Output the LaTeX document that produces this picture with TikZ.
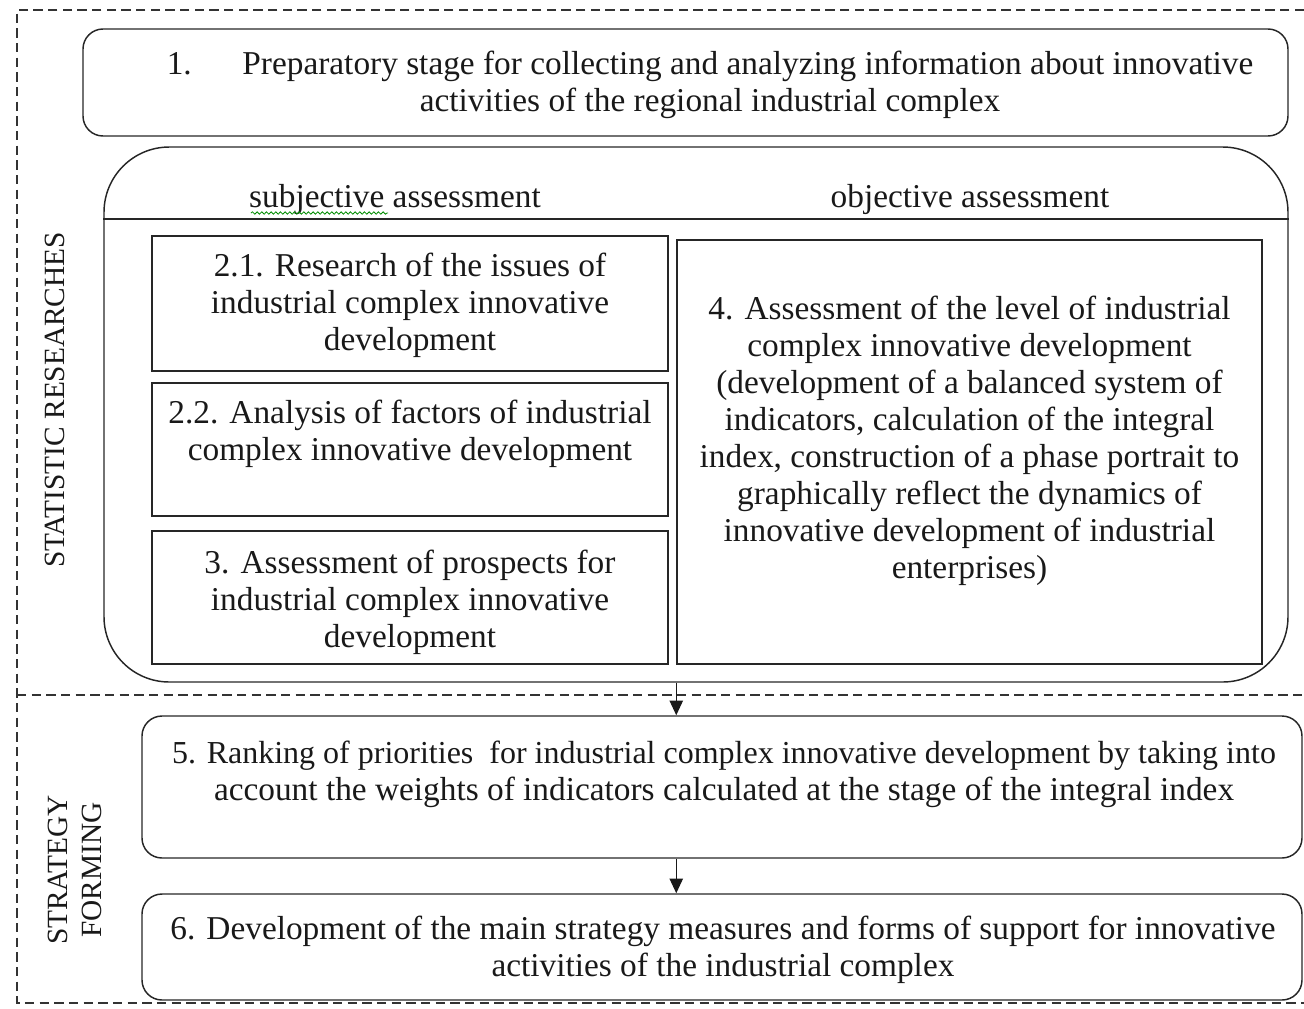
\documentclass[tikz,border=0pt]{standalone}
\usepackage{fontspec}
\setmainfont{Liberation Serif}
\usetikzlibrary{arrows.meta,decorations.pathmorphing}
\newdimen\u
\u=0.75pt
\tikzset{
  bx/.style={draw=black!85, line width=1.1pt, inner sep=0pt, rectangle},
  rbx/.style={bx, rounded corners=15pt},
  txt/.style={align=center, inner sep=0pt, font=\fontsize{25}{27.75}\selectfont, text=black!90},
  side/.style={align=center, inner sep=0pt, rotate=90, font=\fontsize{22}{26}\selectfont, text=black!90},
  dsh/.style={draw=black!80, line width=1.1pt, dash pattern=on 7pt off 4pt},
  arr/.style={draw=black!90, line width=1pt, -{Triangle[width=10pt,length=11pt]}}
}
\begin{document}
\begin{tikzpicture}[x=0.75pt,y=-0.75pt]
\useasboundingbox (0,0) rectangle (1304,1008);
% outer dashed frame
\draw[dsh] (1304,10) -- (17,10) -- (17,1003) -- (1304,1003);
\draw[dsh] (17,695) -- (1304,695);
% boxes
\node[rbx, minimum width=1205\u, minimum height=107\u] (b1) at (685.5,82.5) {};
\node[bx, rounded corners=49pt, minimum width=1184\u, minimum height=535\u] (cont) at (696,414.5) {};
\coordinate (hl) at (0,219);
\draw[draw=black!85, line width=1.1pt] (cont.west |- hl) -- (cont.east |- hl);
\node[bx, minimum width=516\u, minimum height=135\u] (b21) at (410,303.5) {};
\node[bx, minimum width=516\u, minimum height=133\u] (b22) at (410,449.5) {};
\node[bx, minimum width=516\u, minimum height=133\u] (b3) at (410,597.5) {};
\node[bx, minimum width=585\u, minimum height=424\u] (b4) at (969.5,452) {};
\node[rbx, minimum width=1160\u, minimum height=142\u] (b5) at (722,787) {};
\node[rbx, minimum width=1160\u, minimum height=106\u] (b6) at (722,947) {};
% texts
\node[txt] (t1) at (710,85) {1.\hspace{38pt}Preparatory stage for collecting and analyzing information about innovative\\activities of the regional industrial complex};
\node[txt] (hs) at (395,199) {subjective assessment};
\node[txt] (ho) at (970,199) {objective assessment};
\draw[green!55!black, line width=0.6pt, decorate, decoration={snake, amplitude=0.9pt, segment length=3.5pt}] (251,213) -- (388,213);
\node[txt] (t21) at (410,305) {2.1. Research of the issues of\\industrial complex innovative\\development};
\node[txt] (t22) at (410,434) {2.2. Analysis of factors of industrial\\complex innovative development};
\node[txt] (t3) at (410,602) {3. Assessment of prospects for\\industrial complex innovative\\development};
\node[txt] (t4) at (969.5,441) {4. Assessment of the level of industrial\\complex innovative development\\(development of a balanced system of\\indicators, calculation of the integral\\index, construction of a phase portrait to\\graphically reflect the dynamics of\\innovative development of industrial\\enterprises)};
\node[txt] (t5) at (724,774) {{\fontsize{24}{27.75}\selectfont 5. Ranking of priorities\ \ for industrial complex innovative development by taking into}\\account the weights of indicators calculated at the stage of the integral index};
\node[txt] (t6) at (723,950) {6. Development of the main strategy measures and forms of support for innovative\\activities of the industrial complex};
\node[side] (ls) at (55,400) {STATISTIC RESEARCHES};
\node[side] (lf) at (75,870) {STRATEGY\\FORMING};
% arrows
\draw[arr] (cont.south -| b4.west) -- (b5.north -| b4.west);
\draw[arr] (b5.south -| b4.west) -- (b6.north -| b4.west);
\end{tikzpicture}
\end{document}
